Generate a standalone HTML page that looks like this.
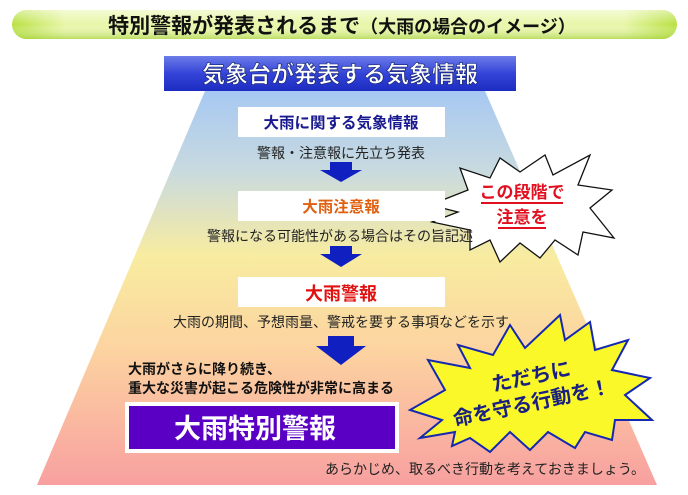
<!DOCTYPE html>
<html><head><meta charset="utf-8"><style>
html,body{margin:0;padding:0;background:#fff;width:688px;height:495px;overflow:hidden}
text{font-family:"Liberation Sans","Noto Sans CJK JP",sans-serif}
</style></head><body>
<svg width="688" height="495" viewBox="0 0 688 495" xmlns="http://www.w3.org/2000/svg">
<defs>
<linearGradient id="pill" x1="0" y1="0" x2="1" y2="0">
<stop offset="0" stop-color="#b8e040"/><stop offset="0.08" stop-color="#e8f6a8"/><stop offset="0.92" stop-color="#e8f6a8"/><stop offset="1" stop-color="#b8e040"/></linearGradient>
<linearGradient id="pillv" x1="0" y1="0" x2="0" y2="1">
<stop offset="0" stop-color="#ffffff" stop-opacity="0.5"/><stop offset="0.5" stop-color="#ffffff" stop-opacity="0"/><stop offset="1" stop-color="#9ccc30" stop-opacity="0.6"/></linearGradient>
<linearGradient id="hdr" x1="0" y1="0" x2="0" y2="1">
<stop offset="0" stop-color="#6c7ce8"/><stop offset="0.5" stop-color="#3444d8"/><stop offset="1" stop-color="#1c2cc0"/></linearGradient>
<linearGradient id="trap" x1="0" y1="0" x2="0" y2="1">
<stop offset="0" stop-color="#a6c8f2"/><stop offset="0.2" stop-color="#c8dae0"/><stop offset="0.42" stop-color="#f8eca0"/><stop offset="0.65" stop-color="#fcd4a0"/><stop offset="1" stop-color="#f8a0a0"/></linearGradient>
</defs>
<rect x="12" y="10" width="665" height="29" rx="14.5" fill="url(#pill)"/>
<rect x="12" y="10" width="665" height="29" rx="14.5" fill="url(#pillv)"/>
<text x="342" y="33" font-size="21" font-weight="bold" text-anchor="middle" fill="#111">特別警報が発表されるまで<tspan font-size="18">（大雨の場合のイメージ）</tspan></text>

<polygon points="205,91 485,91 657,485 37,485" fill="url(#trap)"/>
<rect x="164" y="56" width="352" height="35" fill="url(#hdr)"/>
<text x="340" y="82" font-size="23" font-weight="bold" text-anchor="middle" fill="#fff" stroke="#102070" stroke-width="0.6">気象台が発表する気象情報</text>

<polygon points="430,205 468,190 460,168 490,178 500,158 520,172 545,155 553,175 590,155 578,185 612,190 590,208 614,238 583,232 578,255 555,240 540,258 520,243 500,262 490,240 470,250 470,230 432,222 458,212" fill="#fff" stroke="#111" stroke-width="1.3"/>
<text x="522" y="198" font-size="17" font-weight="bold" text-anchor="middle" fill="#e01020">この段階で</text>
<line x1="481" y1="203" x2="563" y2="203" stroke="#e01020" stroke-width="2"/>
<text x="522" y="223" font-size="17" font-weight="bold" text-anchor="middle" fill="#e01020">注意を</text>
<line x1="498" y1="228" x2="546" y2="228" stroke="#e01020" stroke-width="2"/>

<polygon points="410,410 445,390 428,360 470,368 458,345 493,355 510,325 525,348 560,315 565,340 590,322 595,350 628,340 612,370 650,378 625,395 652,420 615,420 612,440 585,432 575,448 548,432 530,450 510,432 490,452 470,438 452,446 455,432 420,438 442,420" fill="#fbf82a" stroke="#1428b0" stroke-width="2"/>
<g transform="rotate(-12 530 395)" fill="#1a2080" font-weight="bold">
<text x="535" y="384" font-size="20" text-anchor="middle">ただちに</text>
<text x="530" y="410" font-size="20" text-anchor="middle">命を守る行動を！</text>
</g>

<rect x="238" y="107" width="207" height="30" fill="#fff"/>
<text x="341" y="128" font-size="15.5" font-weight="bold" text-anchor="middle" fill="#1a1a90">大雨に関する気象情報</text>
<text x="341" y="158" font-size="14" text-anchor="middle" fill="#222">警報・注意報に先立ち発表</text>
<polygon points="330,162 352,162 352,170 362,170 341,182 320,170 330,170" fill="#1020c0"/>

<rect x="238" y="191" width="207" height="30" fill="#fff"/>
<text x="341" y="212" font-size="15.5" font-weight="bold" text-anchor="middle" fill="#e06010">大雨注意報</text>
<text x="340" y="241" font-size="14" text-anchor="middle" fill="#222">警報になる可能性がある場合はその旨記述</text>
<polygon points="330,246 352,246 352,254 362,254 341,267 320,254 330,254" fill="#1020c0"/>

<rect x="238" y="277" width="207" height="30" fill="#fff"/>
<text x="341" y="300" font-size="18" font-weight="bold" text-anchor="middle" fill="#e01010">大雨警報</text>
<text x="341" y="327" font-size="14" text-anchor="middle" fill="#222">大雨の期間、予想雨量、警戒を要する事項などを示す</text>
<polygon points="328,336 354,336 354,346 366,346 341,365 316,346 328,346" fill="#1020c0"/>

<text x="128" y="374" font-size="14" font-weight="bold" fill="#111">大雨がさらに降り続き、</text>
<text x="128" y="393" font-size="14" font-weight="bold" fill="#111">重大な災害が起こる危険性が非常に高まる</text>
<rect x="125" y="402" width="274" height="51" fill="#fff"/>
<rect x="129" y="406" width="266" height="43" fill="#5a00c4"/>
<text x="255" y="438" font-size="27" font-weight="bold" text-anchor="middle" fill="#fff">大雨特別警報</text>
<text x="645" y="474" font-size="14" text-anchor="end" fill="#222">あらかじめ、取るべき行動を考えておきましょう。</text>
</svg>
</body></html>
